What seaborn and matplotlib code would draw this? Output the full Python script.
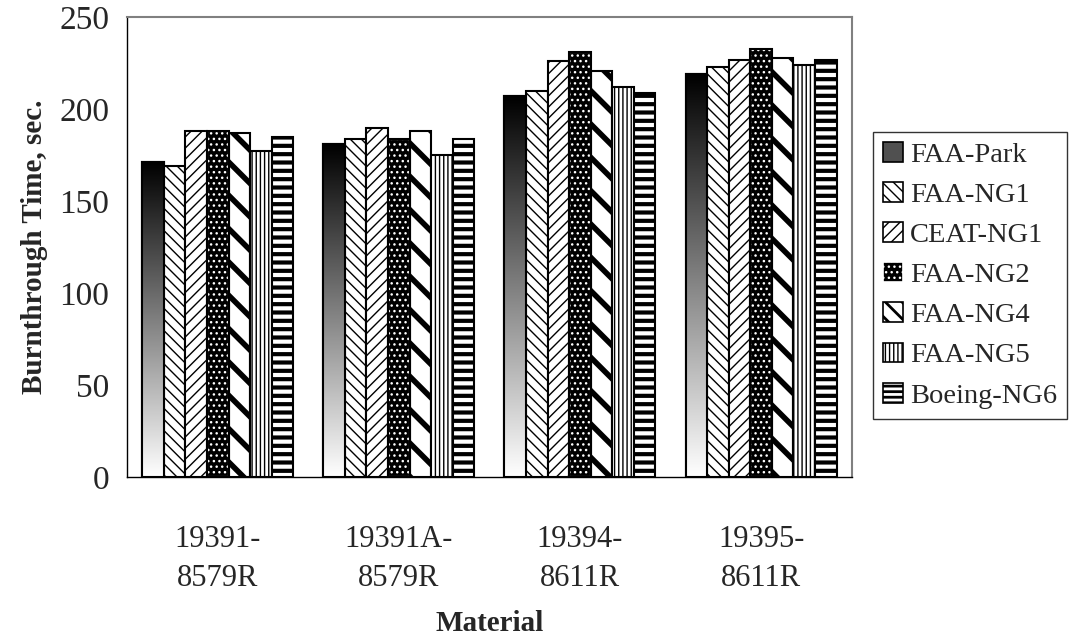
import matplotlib

matplotlib.use("Agg")

import matplotlib.pyplot as plt
import numpy as np
import pandas as pd
import seaborn as sns
from matplotlib.patches import Patch, Rectangle

materials = ["19391-\n8579R", "19391A-\n8579R", "19394-\n8611R", "19395-\n8611R"]
series = ["FAA-Park", "FAA-NG1", "CEAT-NG1", "FAA-NG2", "FAA-NG4", "FAA-NG5", "Boeing-NG6"]

faa_park = [171, 181, 207, 219]
faa_ng1 = [169, 184, 210, 223]
ceat_ng1 = [188, 190, 226, 227]
faa_ng2 = [188, 184, 231, 233]
faa_ng4 = [187, 188, 221, 228]
faa_ng5 = [177, 175, 212, 224]
boeing_ng6 = [185, 184, 209, 227]

yticks = [0, 50, 100, 150, 200, 250]

values = [faa_park, faa_ng1, ceat_ng1, faa_ng2, faa_ng4, faa_ng5, boeing_ng6]
rows = []
for name, vals in zip(series, values):
    for mat, v in zip(materials, vals):
        rows.append({"Material": mat, "Series": name, "Time": v})
df = pd.DataFrame(rows)

# pattern for each series: face, hatch colour, hatch, hatch linewidth
styles = {
    "FAA-Park": ("#505050", "black", None, 1.0),
    "FAA-NG1": ("white", "black", "\\\\\\", 1.0),
    "CEAT-NG1": ("white", "black", "///", 1.0),
    "FAA-NG2": ("black", "white", "...", 1.0),
    "FAA-NG4": ("white", "black", "\\", 4.0),
    "FAA-NG5": ("white", "black", "||||", 1.0),
    "Boeing-NG6": ("white", "black", "--", 3.0),
}
# legend swatches are small, so some patterns need a denser hatch there
legend_hatch = {"FAA-NG4": "\\\\", "Boeing-NG6": "---"}

sns.set_style("white")
plt.rcParams["font.family"] = ["Liberation Serif", "DejaVu Serif"]
plt.rcParams["hatch.linewidth"] = 1.0

fig = plt.figure(figsize=(10.78, 6.4), dpi=100)
ax = fig.add_axes([0.118, 0.255, 0.672, 0.718])

sns.barplot(
    data=df,
    x="Material",
    y="Time",
    hue="Series",
    hue_order=series,
    order=materials,
    width=0.834,
    gap=0,
    legend=False,
    ax=ax,
)

for name, container in zip(series, ax.containers):
    face, hcol, hatch, hlw = styles[name]
    for bar in container:
        bar.set_facecolor(face)
        bar.set_edgecolor(hcol)
        bar.set_linewidth(1.5)
        if hatch:
            bar.set_hatch(hatch)
            if hasattr(bar, "set_hatch_linewidth"):
                bar.set_hatch_linewidth(hlw)
        x0, w, h = bar.get_x(), bar.get_width(), bar.get_height()
        if name == "FAA-Park":
            grad = np.linspace(1, 0, 256).reshape(-1, 1)
            im = ax.imshow(grad, extent=[x0, x0 + w, 0, h], origin="lower",
                           cmap="gray", aspect="auto", zorder=bar.get_zorder() + 0.1)
            im.set_clip_path(bar)
        if hcol != "black" or name == "FAA-Park":
            ax.add_patch(Rectangle((x0, 0), w, h, fill=False, edgecolor="black",
                                   linewidth=1.5, zorder=bar.get_zorder() + 0.2))

ax.set_xlim(-0.5, len(materials) - 0.5)
ax.set_ylim(0, 250)
ax.set_yticks(yticks)
ax.set_xticks(np.arange(-0.5, len(materials)), minor=True)
ax.tick_params(axis="x", which="major", length=0, labelsize=22, pad=35)
ax.tick_params(axis="x", which="minor", length=10, width=1, color="black", direction="out")
ax.tick_params(axis="y", length=7, width=1, color="black", direction="out", labelsize=24, pad=6)
for lbl in ax.get_xticklabels():
    lbl.set_linespacing(1.45)

for side in ("left", "bottom"):
    ax.spines[side].set_color("black")
    ax.spines[side].set_linewidth(1.0)
for side in ("top", "right"):
    ax.spines[side].set_visible(True)
    ax.spines[side].set_color("#808080")
    ax.spines[side].set_linewidth(1.5)

ax.set_xlabel("Material", fontsize=21, fontweight="bold", labelpad=12)
ax.set_ylabel("Burnthrough Time, sec.", fontsize=21, fontweight="bold", labelpad=8)

handles = []
for name in series:
    face, hcol, hatch, hlw = styles[name]
    hatch = legend_hatch.get(name, hatch)
    handles.append(Patch(facecolor=face, edgecolor=hcol, hatch=hatch, linewidth=1.2, label=name))

leg = fig.legend(
    handles=handles,
    loc="center left",
    bbox_to_anchor=(0.81, 0.57),
    fontsize=20.5,
    frameon=True,
    fancybox=False,
    edgecolor="black",
    handlelength=0.7,
    handleheight=0.7,
    handletextpad=0.25,
    labelspacing=0.5,
    borderpad=0.35,
    borderaxespad=0,
)
leg.get_frame().set_linewidth(1.0)
for name, p in zip(series, leg.get_patches()):
    if hasattr(p, "set_hatch_linewidth"):
        p.set_hatch_linewidth(min(styles[name][3], 2.0))

fig.savefig("out.png", dpi=100)
